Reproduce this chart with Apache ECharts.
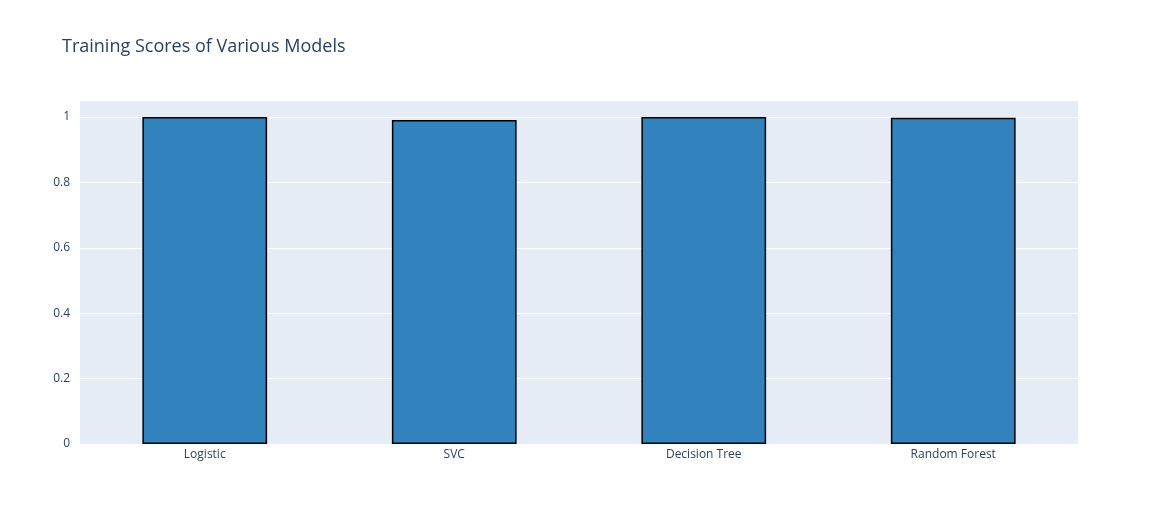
<html style="height: 100%">
<head>
	<meta charset="utf-8">
	<script type="text/javascript" src="https://cdn.jsdelivr.net/npm/echarts@6/dist/echarts.min.js"></script>
</head>
<body style="height: 100%; margin: 0">
	<div id="container" style="height:525px;width:1158px"></div>
</body>
<script type="text/javascript">
	var models = ['Logistic', 'SVC', 'Decision Tree', 'Random Forest'];
	var scores = [1.0, 0.991, 1.0, 0.998];

	var myChart = echarts.init(document.getElementById('container'));
	var option = {
		backgroundColor: '#fff',
		title: {
			text: 'Training Scores of Various Models',
			left: 57, top: 33,
			textStyle: { fontFamily: 'Open Sans', fontSize: 18, fontWeight: 'normal', color: '#2a3f5f' }
		},
		grid: { left: 80, right: 80, top: 100, bottom: 81, backgroundColor: '#e5ecf6', show: true, borderWidth: 0 },
		xAxis: {
			type: 'category',
			data: models,
			axisLine: { show: false },
			axisTick: { show: false },
			axisLabel: { fontFamily: 'Open Sans', fontSize: 12, color: '#2a3f5f', margin: 5 }
		},
		yAxis: {
			type: 'value',
			min: 0, max: 1.052, interval: 0.2,
			axisLabel: {
				fontFamily: 'Open Sans', fontSize: 12, color: '#2a3f5f', margin: 10,
				formatter: function (v) { return v > 1.01 ? '' : String(Math.round(v * 10) / 10); }
			},
			splitLine: { lineStyle: { color: '#fff', width: 1 } },
			axisLine: { show: false },
			axisTick: { show: false }
		},
		series: [{
			type: 'bar',
			data: scores,
			barWidth: '50%',
			itemStyle: { color: '#3182bd', borderColor: '#000', borderWidth: 1.5 }
		}]
	};
	myChart.setOption(option);
</script>
</html>
